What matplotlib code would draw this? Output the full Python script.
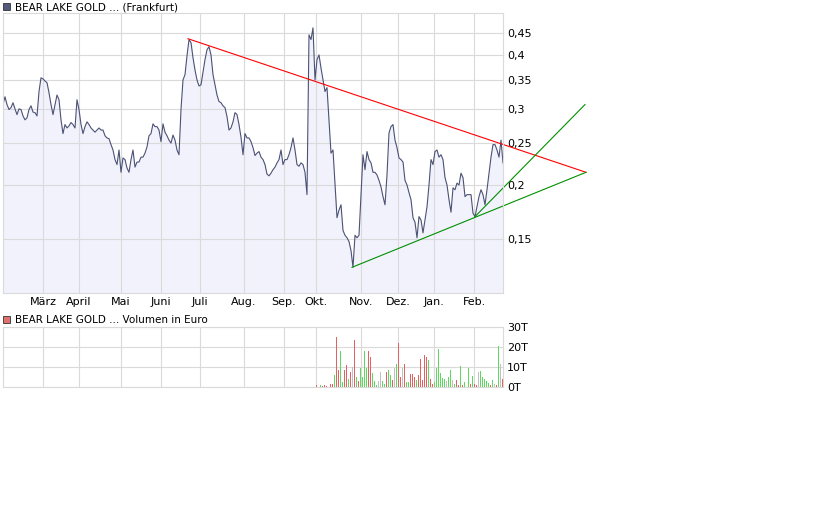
import numpy as np
import matplotlib
matplotlib.use("Agg")
import matplotlib.pyplot as plt
from matplotlib.patches import Rectangle
from matplotlib.ticker import NullLocator

# daily closing prices (EUR), one value per trading day
price = [
    0.307, 0.320, 0.307, 0.299, 0.302, 0.310, 0.300, 0.291, 0.300, 0.299,
    0.289, 0.283, 0.286, 0.299, 0.305, 0.295, 0.294, 0.289, 0.329, 0.354,
    0.352, 0.348, 0.345, 0.327, 0.307, 0.291, 0.307, 0.323, 0.315, 0.283,
    0.263, 0.276, 0.271, 0.274, 0.279, 0.276, 0.271, 0.315, 0.299, 0.276,
    0.263, 0.273, 0.280, 0.276, 0.271, 0.268, 0.265, 0.268, 0.271,
    0.268, 0.268, 0.260, 0.257, 0.256, 0.248, 0.241, 0.229, 0.223, 0.241,
    0.214, 0.231, 0.229, 0.219, 0.214, 0.229, 0.241, 0.220, 0.226, 0.226,
    0.232, 0.232, 0.237, 0.245, 0.260, 0.263, 0.277, 0.273, 0.273, 0.268,
    0.252, 0.277, 0.265, 0.260, 0.254, 0.250, 0.261, 0.254, 0.241, 0.235,
    0.299, 0.350, 0.360, 0.398, 0.434, 0.427, 0.394, 0.369, 0.350, 0.339,
    0.341, 0.365, 0.390, 0.411, 0.418, 0.400, 0.360, 0.341, 0.323, 0.312,
    0.310, 0.305, 0.302, 0.288, 0.268, 0.271, 0.280, 0.294, 0.291, 0.276,
    0.258, 0.235, 0.263, 0.257, 0.257, 0.252, 0.244, 0.234, 0.237, 0.239,
    0.232, 0.229, 0.223, 0.212, 0.210, 0.213, 0.217, 0.220, 0.225, 0.229,
    0.241, 0.223, 0.229, 0.229, 0.235, 0.244, 0.257, 0.241, 0.223, 0.221,
    0.225, 0.223, 0.214, 0.190, 0.445, 0.434, 0.462, 0.350, 0.390, 0.400,
    0.373, 0.350, 0.329, 0.336, 0.283, 0.237, 0.241, 0.202, 0.168, 0.175,
    0.180, 0.157, 0.153, 0.151, 0.148, 0.141, 0.129, 0.153, 0.151, 0.153,
    0.190, 0.235, 0.217, 0.239, 0.229, 0.225, 0.214, 0.214, 0.211, 0.205,
    0.198, 0.188, 0.180, 0.211, 0.264, 0.273, 0.276, 0.254, 0.244, 0.231,
    0.229, 0.226, 0.205, 0.200, 0.192, 0.185, 0.168, 0.164, 0.151, 0.169,
    0.166, 0.155, 0.166, 0.178, 0.200, 0.229, 0.223, 0.239, 0.241, 0.232,
    0.235, 0.229, 0.208, 0.200, 0.185, 0.173, 0.197, 0.195, 0.202, 0.200,
    0.213, 0.208, 0.188, 0.190, 0.190, 0.190, 0.172, 0.169, 0.178, 0.188,
    0.195, 0.190, 0.180, 0.195, 0.213, 0.232, 0.248, 0.248, 0.241, 0.232,
    0.254, 0.225,
]

# traded volume in thousand EUR, first trades only from mid October on
volume = [0] * 155 + [
    0, 1.2, 0, 0.8, 0.5, 0.8, 0.5, 0, 1.3, 1.7,
    6, 25, 8.5, 17.8, 2.5, 8.7, 10.8, 4.2, 7.5, 10,
    23.3, 5, 2.8, 9.7, 5, 17.8, 9.7, 17.8, 15, 7,
    3, 1.2, 2.8, 7.3, 3, 1.7, 7.5, 8.3, 6, 3.3,
    9.7, 11.7, 22, 5, 9.7, 11.7, 2.5, 2.5, 6.3, 6.3,
    5, 3.3, 5.8, 14.2, 3.3, 15.8, 15, 13.7, 4, 1.7,
    2.5, 9.7, 19.2, 7, 4.5, 3.8, 2.8, 4.8, 8.7, 3.3,
    1.7, 3.3, 0.8, 10.3, 0.8, 2.5, 0, 9.7, 1.7, 5.3,
    1.7, 0.8, 7.5, 8, 5, 3.8, 2.8, 2, 1.2, 3.7,
    1.7, 1.2, 20.3, 11.7, 4.2, 1.7,
]
# day direction: g = up, r = down, n = unchanged, - = no trade
vol_dir = "-" * 155 + (
    "-r-grrr-rr" "grrggrrgrn" "rgrggggrrg" "ggnnggrggr" "ngrrnrggrr"
    "rgrrrrrgrr" "ggggggnggn" "grrgrg-grg" "rrngggggrg" "nrgnrg"
)

month_labels = ["März", "April", "Mai", "Juni", "Juli", "Aug.", "Sep.",
                "Okt.", "Nov.", "Dez.", "Jan.", "Feb."]
month_pos = [20, 38, 59, 79, 98.5, 120.5, 140.5, 156.5, 179, 197.5, 215.5, 235.5]

price_ticks = [0.15, 0.2, 0.25, 0.3, 0.35, 0.4, 0.45]
price_labels = ["0,15", "0,2", "0,25", "0,3", "0,35", "0,4", "0,45"]
vol_ticks = [0, 10, 20, 30]
vol_labels = ["0T", "10T", "20T", "30T"]

# trend lines (day, price)
resist_x, resist_y = [92.5, 291.5], [0.436, 0.214]
support_x, support_y = [174.5, 291.5], [0.129, 0.214]
steep_x, steep_y = [236, 291], [0.169, 0.307]

W, H = 840, 525
grid_c = "#dadada"

fig = plt.figure(figsize=(8.4, 5.25), dpi=100)
ax = fig.add_axes([3 / W, 1 - 293 / H, 500 / W, 280 / H])
axv = fig.add_axes([3 / W, 1 - 387 / H, 500 / W, 60 / H])

days = np.arange(len(price))
ax.fill_between(days, price, 0.05, color="#f2f2fd", lw=0)
ax.plot(days, price, color="#4b5274", lw=0.8)

ax.plot(resist_x, resist_y, color="#ff0000", lw=0.8, clip_on=False)
ax.plot(support_x, support_y, color="#009000", lw=0.8, clip_on=False)
ax.plot(steep_x, steep_y, color="#009000", lw=0.8, clip_on=False)

ax.set_yscale("log")
ax.set_ylim(0.1125, 0.5)
ax.set_xlim(0, 250)
ax.set_yticks(price_ticks)
ax.set_yticklabels(price_labels)
ax.yaxis.set_minor_locator(NullLocator())
ax.yaxis.tick_right()
ax.set_xticks(month_pos)
ax.set_xticklabels(month_labels)

colors = {"g": "#5fd85f", "r": "#e06262", "n": "#c0c0c0", "-": "#ffffff"}
vdays = np.arange(len(volume))
axv.vlines(vdays + 0.25, 0, volume, colors=[colors[c] for c in vol_dir],
           lw=0.55, antialiased=False, zorder=3)
axv.set_xlim(0, 250)
axv.set_ylim(0, 30)
axv.set_yticks(vol_ticks)
axv.set_yticklabels(vol_labels)
axv.yaxis.tick_right()
axv.set_xticks(month_pos)
axv.set_xticklabels([])

for a in (ax, axv):
    a.grid(color=grid_c, lw=0.8)
    a.tick_params(length=0, labelsize=8, pad=3)
    for s in a.spines.values():
        s.set_color(grid_c)
        s.set_linewidth(0.8)

fig.patches.append(Rectangle((3 / W, 1 - 10 / H), 7 / W, 7 / H, transform=fig.transFigure,
                             fc="#515a7a", ec="#333333", lw=0.6))
fig.text(15 / W, 1 - 7 / H, "BEAR LAKE GOLD ... (Frankfurt)", fontsize=7.5, va="center")
fig.patches.append(Rectangle((3 / W, 1 - 323 / H), 7 / W, 7 / H, transform=fig.transFigure,
                             fc="#e07070", ec="#333333", lw=0.6))
fig.text(15 / W, 1 - 320 / H, "BEAR LAKE GOLD ... Volumen in Euro", fontsize=7.5, va="center")

fig.savefig("out.png", dpi=100)
